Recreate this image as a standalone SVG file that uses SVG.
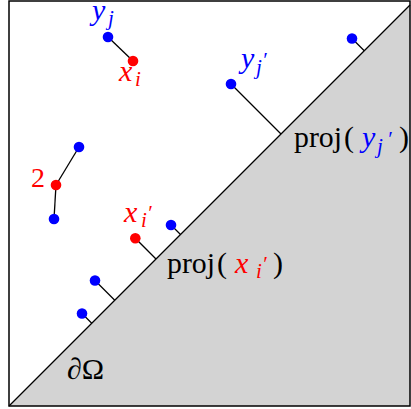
<svg xmlns="http://www.w3.org/2000/svg" width="411" height="409" viewBox="0 0 411 409">
<style>
.t{font-family:"Liberation Serif","Times New Roman",serif;font-size:30px}
.it{font-style:italic}
.sub{font-family:"Liberation Serif","Times New Roman",serif;font-size:21px;font-style:italic}
.blue{fill:#0000ff}
.red{fill:#ff0000}
.blk{fill:#000}
.conn{stroke:#000;stroke-width:1.3;fill:none}
</style>
<rect x="0" y="0" width="411" height="409" fill="#fff"/>
<g id="domain">
<polygon points="9,406 410,5 410,406" fill="#d3d3d3"/>
<rect x="9" y="1" width="401" height="405" fill="none" stroke="#000" stroke-width="1.5"/>
<line x1="9" y1="406" x2="410" y2="5" stroke="#000" stroke-width="1.3"/>
</g>
<g id="connectors">
<line class="conn" x1="108" y1="37" x2="133" y2="61"/>
<line class="conn" x1="79" y1="147" x2="56" y2="185"/>
<line class="conn" x1="56" y1="185" x2="54" y2="219"/>
<line class="conn" x1="352" y1="38.5" x2="364.25" y2="50.75"/>
<line class="conn" x1="231" y1="84" x2="281" y2="134"/>
<line class="conn" x1="135.3" y1="238.3" x2="156" y2="259"/>
<line class="conn" x1="171" y1="225" x2="180.5" y2="234.5"/>
<line class="conn" x1="95" y1="280.5" x2="114.75" y2="300.25"/>
<line class="conn" x1="82" y1="313.5" x2="91.75" y2="323.25"/>
</g>
<g id="yj"><circle cx="108" cy="37" r="5.3" fill="#0000ff"/>
<text class="t it blue" x="92" y="20">y</text><text class="sub blue" x="108" y="25">j</text></g>
<g id="xi"><circle cx="133" cy="61" r="5.3" fill="#ff0000"/>
<text class="t it red" x="119" y="81">x</text><text class="sub red" x="135" y="86">i</text></g>
<g id="p1"><circle cx="79" cy="147" r="5.3" fill="#0000ff"/></g>
<g id="p2"><circle cx="56" cy="185" r="5.3" fill="#ff0000"/>
<text class="t red" x="31" y="187" style="font-size:28px">2</text></g>
<g id="p3"><circle cx="54" cy="219" r="5.3" fill="#0000ff"/></g>
<g id="yjp"><circle cx="231" cy="84" r="5.3" fill="#0000ff"/>
<text class="t it blue" x="241" y="68">y</text><text class="sub blue" x="256" y="74">j</text><text class="sub blue" x="262" y="67">′</text></g>
<g id="p4"><circle cx="352" cy="38.5" r="5.3" fill="#0000ff"/></g>
<g id="xip"><circle cx="135.3" cy="238.3" r="5.3" fill="#ff0000"/>
<text class="t it red" x="124" y="222">x</text><text class="sub red" x="141" y="227">i</text><text class="sub red" x="147" y="220">′</text></g>
<g id="p5"><circle cx="171" cy="225" r="5.3" fill="#0000ff"/></g>
<g id="p6"><circle cx="95" cy="280.5" r="5.3" fill="#0000ff"/></g>
<g id="p7"><circle cx="82" cy="313.5" r="5.3" fill="#0000ff"/></g>
<g id="proj_y">
<text class="t blk" x="294" y="147" textLength="48" lengthAdjust="spacingAndGlyphs">proj</text>
<text class="t blk" x="344" y="147">(</text>
<text class="t it blue" x="362" y="147">y</text>
<text class="sub blue" x="377" y="153">j</text><text class="sub blue" x="387" y="146">′</text>
<text class="t blk" x="399" y="147">)</text>
</g>
<g id="proj_x">
<text class="t blk" x="167" y="273" textLength="48" lengthAdjust="spacingAndGlyphs">proj</text>
<text class="t blk" x="217" y="273">(</text>
<text class="t it red" x="235" y="273">x</text>
<text class="sub red" x="256" y="278">i</text><text class="sub red" x="262" y="271">′</text>
<text class="t blk" x="273" y="273">)</text>
</g>
<g id="boundary">
<text class="t blk" x="67" y="379"><tspan class="it">∂</tspan>Ω</text>
</g>
</svg>
